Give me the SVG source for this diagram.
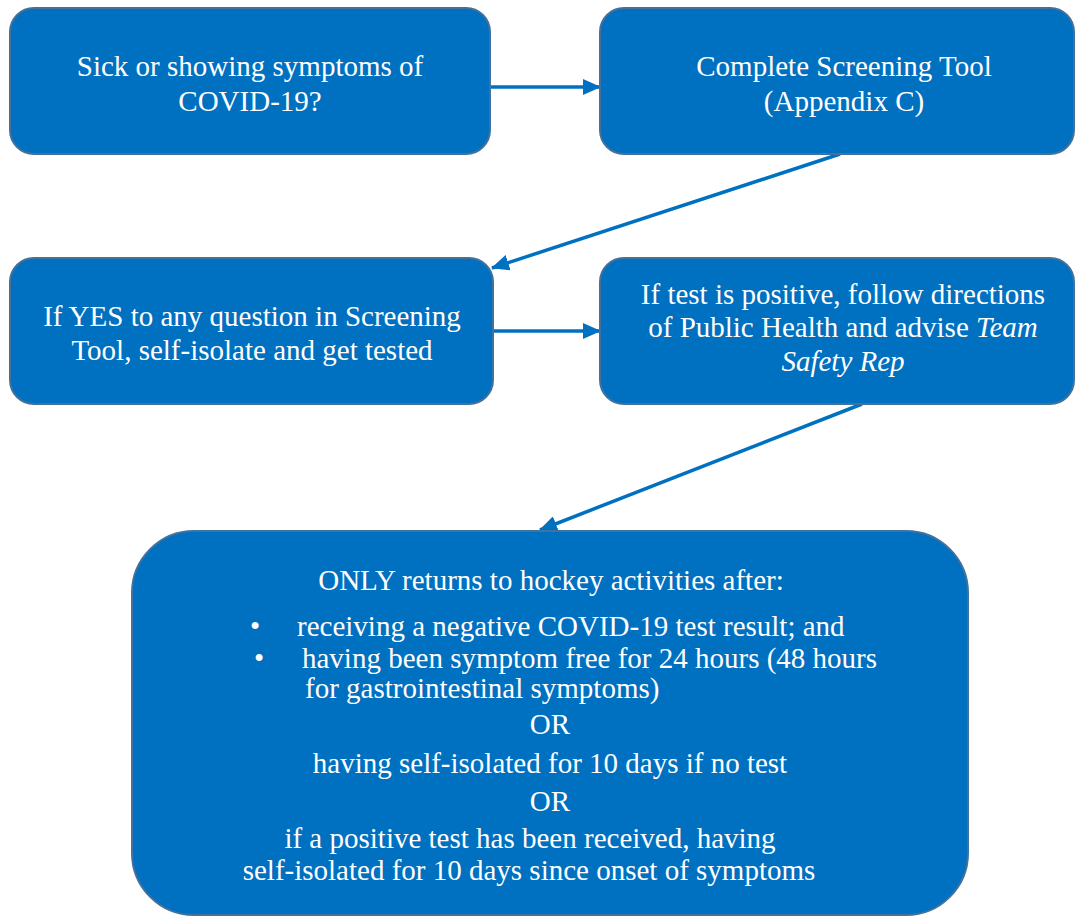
<svg xmlns="http://www.w3.org/2000/svg" width="1076" height="916" viewBox="0 0 1076 916">
<style>
.box{fill:#0070C0;stroke:#41719C;stroke-width:2}
.t{font-family:'Liberation Serif','Times New Roman','DejaVu Serif',serif;font-size:29px;fill:#ffffff;text-anchor:middle}
.ts{font-family:'Liberation Serif','Times New Roman','DejaVu Serif',serif;font-size:29px;fill:#ffffff}
.c{stroke:#0070C0;stroke-width:3.5;fill:none}
</style>
<defs>
<marker id="ah" markerUnits="userSpaceOnUse" markerWidth="18" markerHeight="16" refX="17" refY="8" orient="auto">
<path d="M0,0 L18,8 L0,16 Z" fill="#0070C0"/>
</marker>
</defs>
<rect width="1076" height="916" fill="#ffffff"/>
<g id="connectors">
<line class="c" x1="490" y1="87" x2="600" y2="87" marker-end="url(#ah)"/>
<line class="c" x1="840" y1="154" x2="492" y2="268" marker-end="url(#ah)"/>
<line class="c" x1="493" y1="331" x2="600" y2="331" marker-end="url(#ah)"/>
<line class="c" x1="862" y1="404" x2="540" y2="530" marker-end="url(#ah)"/>
</g>
<g id="n1">
<rect class="box" x="10" y="8" width="480" height="146" rx="24"/>
<text class="t" x="250" y="76">Sick or showing symptoms of</text>
<text class="t" x="250" y="111">COVID-19?</text>
</g>
<g id="n2">
<rect class="box" x="600" y="8" width="474" height="146" rx="24"/>
<text class="t" x="844" y="76">Complete Screening Tool</text>
<text class="t" x="844" y="111">(Appendix C)</text>
</g>
<g id="n3">
<rect class="box" x="10" y="258" width="483" height="146" rx="24"/>
<text class="t" x="252" y="326">If YES to any question in Screening</text>
<text class="t" x="252" y="360">Tool, self-isolate and get tested</text>
</g>
<g id="n4">
<rect class="box" x="600" y="258" width="474" height="146" rx="24"/>
<text class="t" x="843" y="304">If test is positive, follow directions</text>
<text class="t" x="843" y="337">of Public Health and advise <tspan font-style="italic">Team</tspan></text>
<text class="t" x="843" y="371" font-style="italic">Safety Rep</text>
</g>
<g id="n5">
<rect class="box" x="132" y="531" width="836" height="384" rx="62"/>
<text class="t" x="551" y="590">ONLY returns to hockey activities after:</text>
<text class="ts" x="250" y="636">•</text>
<text class="ts" x="297" y="636">receiving a negative COVID-19 test result; and</text>
<text class="ts" x="254" y="668">•</text>
<text class="ts" x="302" y="668">having been symptom free for 24 hours (48 hours</text>
<text class="ts" x="305" y="698">for gastrointestinal symptoms)</text>
<text class="t" x="550" y="734">OR</text>
<text class="t" x="550" y="773">having self-isolated for 10 days if no test</text>
<text class="t" x="550" y="811">OR</text>
<text class="t" x="530" y="848">if a positive test has been received, having</text>
<text class="t" x="529" y="880">self-isolated for 10 days since onset of symptoms</text>
</g>
</svg>
